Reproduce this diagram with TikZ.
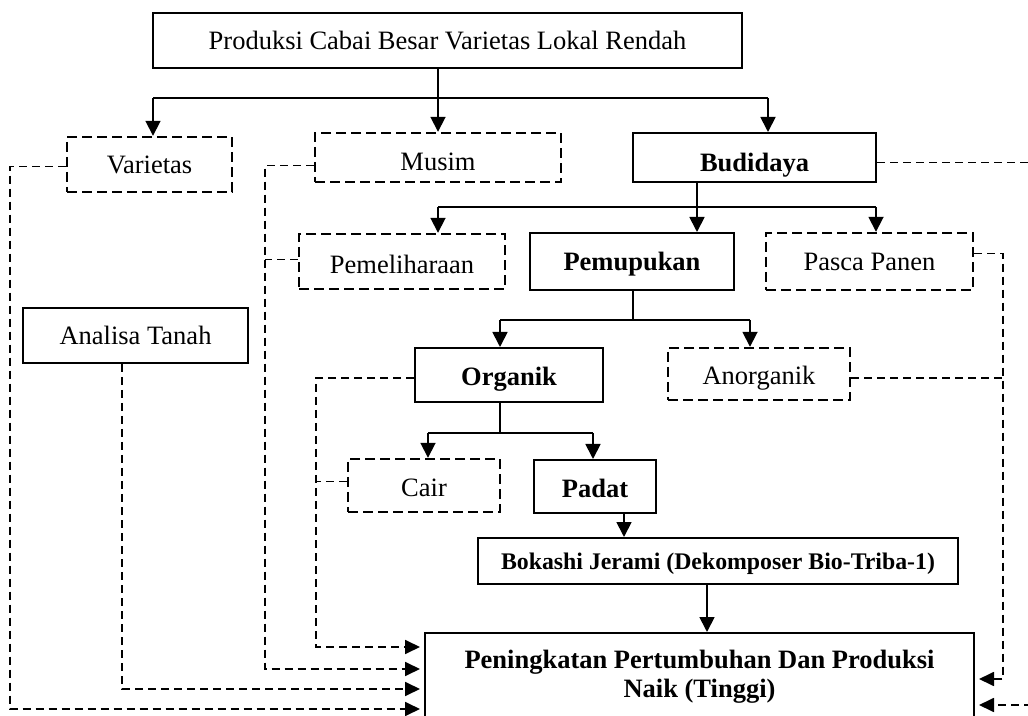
\documentclass[tikz,border=0pt]{standalone}
\usepackage{fontspec}
\setmainfont{Liberation Serif}
\usetikzlibrary{arrows.meta}
\newcommand\mf{\fontsize{13.25pt}{14.5pt}\selectfont}
\newcommand\smallbf{\fontsize{11.9pt}{13pt}\selectfont}
\tikzset{
  basebox/.style={draw, line width=1pt, inner sep=0pt, align=center, font=\mf},
  box/.style={basebox, text height=9pt, text depth=0pt},
  dbox/.style={box, line width=1.2pt, dash pattern=on 5pt off 2.5pt},
  conn/.style={line width=0.9pt, -{Triangle[length=7.5pt,width=7.5pt]}},
  plain/.style={line width=0.8pt},
  dconn/.style={line width=0.9pt, dash pattern=on 4pt off 2.5pt},
  darr/.style={dconn, -{Triangle[length=7.5pt,width=7pt]}, shorten >=2pt}
}
\begin{document}
\begin{tikzpicture}[x=0.5pt,y=-0.5pt]
\useasboundingbox[fill=white] (0,0) rectangle (1028,716);
% nodes
\node[box, minimum width=294.5pt, minimum height=27.5pt] (top) at (447.5,40.5) {Produksi Cabai Besar Varietas Lokal Rendah};
\node[dbox, minimum width=82.5pt, minimum height=27.5pt] (varietas) at (149.5,164.5) {Varietas};
\node[dbox, minimum width=123pt, minimum height=24.5pt, text height=13pt] (musim) at (438,157.5) {Musim};
\node[box, minimum width=121.5pt, minimum height=24.5pt, font=\mf\bfseries, text height=14pt] (budidaya) at (754.5,157.5) {Budidaya};
\node[dbox, minimum width=103pt, minimum height=27.5pt, text height=12pt] (pemel) at (402,261.5) {Pemeliharaan};
\node[box, minimum width=102pt, minimum height=28.5pt, font=\mf\bfseries] (pemupukan) at (632,261.5) {Pemupukan};
\node[dbox, minimum width=103.5pt, minimum height=28.5pt] (pasca) at (869.5,261.5) {Pasca Panen};
\node[box, minimum width=112.5pt, minimum height=27.5pt] (analisa) at (135.5,335.5) {Analisa Tanah};
\node[box, minimum width=94pt, minimum height=27pt, font=\mf\bfseries, text height=10.5pt] (organik) at (509,375) {Organik};
\node[dbox, minimum width=91pt, minimum height=26pt, text height=11pt] (anorganik) at (759,374) {Anorganik};
\node[dbox, minimum width=76pt, minimum height=26.5pt, text height=10.5pt] (cair) at (424,485.5) {Cair};
\node[box, minimum width=61pt, minimum height=26.5pt, font=\mf\bfseries, text height=11pt] (padat) at (595,486.5) {Padat};
\node[box, minimum width=240pt, minimum height=23pt, font=\smallbf\bfseries, text height=8pt] (bokashi) at (718,561) {Bokashi Jerami (Dekomposer Bio-Triba-1)};
\node[basebox, minimum width=274.5pt, minimum height=43.5pt, font=\mf\bfseries] (pen) at (699.5,676.5) {Peningkatan Pertumbuhan Dan Produksi\\Naik (Tinggi)};
% solid tree connectors
\coordinate (b1) at (153,98);
\coordinate (b2) at (768,98);
\draw[plain] (b1) -- (b2);
\draw[conn] (b1) -- (varietas.north -| b1);
\draw[conn] (b2) -- (budidaya.north -| b2);
\draw[conn] (top.south -| musim.north) -- (musim.north);
\coordinate (c0) at (697,207);
\coordinate (c1) at (438,207);
\coordinate (c3) at (876,207);
\draw[plain] (budidaya.south -| c0) -- (c0);
\draw[plain] (c1) -- (c3);
\draw[conn] (c1) -- (pemel.north -| c1);
\draw[conn] (c0) -- (pemupukan.north -| c0);
\draw[conn] (c3) -- (pasca.north -| c3);
\coordinate (d0) at (633,320);
\coordinate (d1) at (500,320);
\coordinate (d2) at (750,320);
\draw[plain] (pemupukan.south -| d0) -- (d0);
\draw[plain] (d1) -- (d2);
\draw[conn] (d1) -- (organik.north -| d1);
\draw[conn] (d2) -- (anorganik.north -| d2);
\coordinate (e0) at (500,433);
\coordinate (e1) at (428,433);
\coordinate (e2) at (593,433);
\draw[plain] (organik.south -| e0) -- (e0);
\draw[plain] (e1) -- (e2);
\draw[conn] (e1) -- (cair.north -| e1);
\draw[conn] (e2) -- (padat.north -| e2);
\coordinate (f0) at (624,520);
\draw[conn] (padat.south -| f0) -- (bokashi.north -| f0);
\coordinate (g0) at (707,600);
\draw[conn] (bokashi.south -| g0) -- (pen.north -| g0);
% dashed feedback connectors
\coordinate (va) at (10,709);
\draw[darr] ([yshift=-1pt]varietas.west) -| (va) -- (pen.west |- va);
\coordinate (ma) at (265,669);
\draw[darr] ([yshift=-4pt]musim.west) -| (ma) -- (pen.west |- ma);
\draw[dconn] ([yshift=1pt]pemel.west) -- ([yshift=1pt]pemel.west -| ma);
\coordinate (aa) at (122,689);
\draw[darr] (analisa.south -| aa) -- (aa) -- (pen.west |- aa);
\coordinate (oa) at (316,647);
\draw[darr] ([yshift=-1.5pt]organik.west) -| (oa) -- (pen.west |- oa);
\draw[dconn] ([yshift=2pt]cair.west) -- ([yshift=2pt]cair.west -| oa);
\coordinate (ba) at (1034,705);
\draw[darr] ([yshift=-2.5pt]budidaya.east) -| (ba) -- (pen.east |- ba);
\coordinate (pa) at (1003,679);
\draw[darr] ([yshift=4pt]pasca.east) -| (pa) -- (pen.east |- pa);
\draw[dconn] ([yshift=-2pt]anorganik.east) -- ([yshift=-2pt]anorganik.east -| pa);
\end{tikzpicture}
\end{document}
